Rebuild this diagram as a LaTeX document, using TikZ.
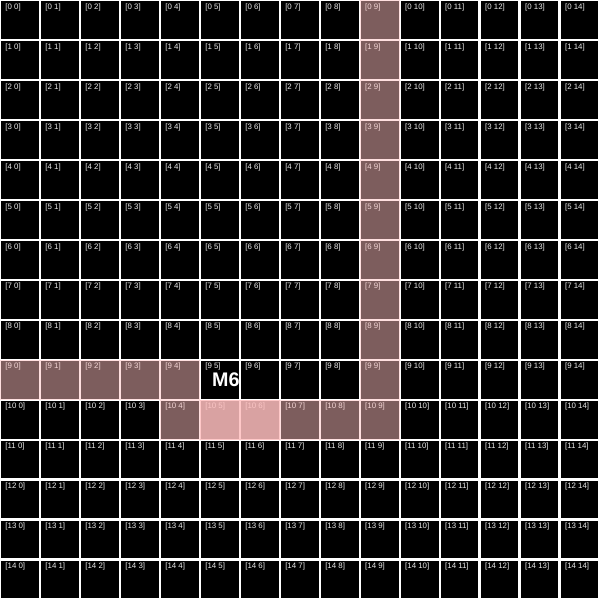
\documentclass[tikz,border=0pt]{standalone}
\usepackage{fontspec}
\newfontfamily\gridfont{Liberation Sans}
\usetikzlibrary{positioning}

\begin{document}
\begin{tikzpicture}[x=1cm, y=-1cm,
  cellbox/.style={fill=black},
  celllabel/.style={anchor=north west, inner sep=0pt, text=white!92!black, font=\gridfont\fontsize{5.6}{6}\selectfont},
  pathcell/.style={fill=pink, fill opacity=0.49},
  focuscell/.style={fill=pink, fill opacity=0.85},
  marktext/.style={text=white, inner sep=0pt, font=\gridfont\bfseries\fontsize{14}{14}\selectfont}]
% background and grid
\fill[white] (0,0) rectangle (15,15);
\foreach \r in {0,...,14}
  \foreach \c in {0,...,14} {
    \fill[cellbox] (\c+0.02,\r+0.02) rectangle (\c+0.96,\r+0.96);
    \node[celllabel] (lbl-\r-\c) at (\c+0.12,\r+0.07) {[\r\ \c]};
  }
% highlighted route
\foreach \r/\c in {0/9,1/9,2/9,3/9,4/9,5/9,6/9,7/9,8/9,9/9,10/9,
                   9/0,9/1,9/2,9/3,9/4,
                   10/4,10/7,10/8}
  \fill[pathcell] (\c-0.01,\r-0.01) rectangle (\c+0.99,\r+0.99);
\foreach \r/\c in {10/5,10/6}
  \fill[focuscell] (\c-0.01,\r-0.01) rectangle (\c+0.99,\r+0.99);
% marker
\node[marktext] (m6) at (5.64,9.48) {M6};
\end{tikzpicture}
\end{document}
